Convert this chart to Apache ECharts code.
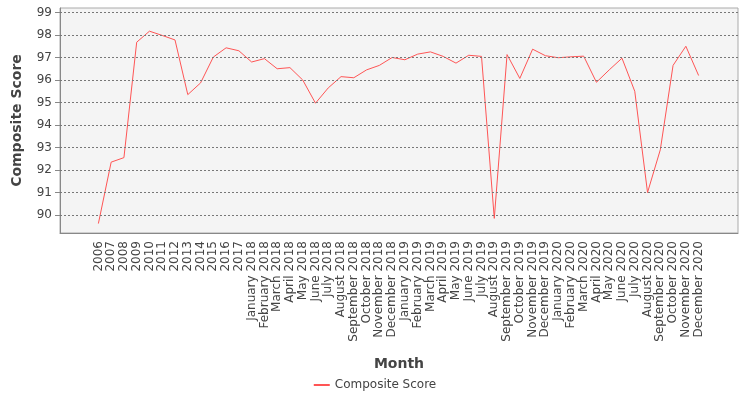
<!DOCTYPE html>
<html><head><meta charset="utf-8">
<script src="https://cdn.jsdelivr.net/npm/echarts@6/dist/echarts.min.js"></script>
<style>html,body{margin:0;padding:0;background:#fff}#c{width:750px;height:400px}</style>
</head><body><div id="c"></div>
<script>
const categories = ['2006','2007','2008','2009','2010','2011','2012','2013','2014','2015','2016','2017',
'January 2018','February 2018','March 2018','April 2018','May 2018','June 2018','July 2018','August 2018','September 2018','October 2018','November 2018','December 2018',
'January 2019','February 2019','March 2019','April 2019','May 2019','June 2019','July 2019','August 2019','September 2019','October 2019','November 2019','December 2019',
'January 2020','February 2020','March 2020','April 2020','May 2020','June 2020','July 2020','August 2020','September 2020','October 2020','November 2020','December 2020'];
const compositeScore = [89.62,92.35,92.55,97.68,98.17,97.98,97.78,95.35,95.87,97.02,97.43,97.3,
96.8,96.95,96.5,96.55,96.0,94.97,95.65,96.15,96.1,96.45,96.65,97.0,
96.9,97.15,97.25,97.05,96.75,97.1,97.05,89.85,97.13,96.07,97.37,97.08,
96.99,97.03,97.06,95.9,96.45,96.97,95.5,91.0,92.9,96.65,97.5,96.2];
const yTicks = [90,91,92,93,94,95,96,97,98,99];
const font = {fontSize:12,color:'#444',fontFamily:'DejaVu Sans'};
const chart = echarts.init(document.getElementById('c'));
chart.setOption({
  animation:false,
  legend:{bottom:4,left:'center',itemWidth:16,itemHeight:2,icon:'rect',textStyle:font,data:['Composite Score']},
  grid:[
    {left:60,right:12,top:8,bottom:167,show:true,backgroundColor:'#f4f4f4',borderColor:'#aaa',borderWidth:1},
    {left:92,right:45,top:8,bottom:167,show:false}
  ],
  xAxis:[
    {gridIndex:0,type:'value',min:0,max:1,axisLine:{show:true,lineStyle:{color:'#888'}},axisTick:{show:false},axisLabel:{show:false},splitLine:{show:false},
     name:'Month',nameLocation:'middle',nameGap:124,nameTextStyle:{fontSize:14,fontWeight:'bold',color:'#444',fontFamily:'DejaVu Sans'}},
    {gridIndex:1,type:'category',data:categories,boundaryGap:true,
     axisLine:{show:false},axisTick:{alignWithLabel:true,lineStyle:{color:'#888'}},
     axisLabel:Object.assign({rotate:90,interval:0},font),splitLine:{show:false}}
  ],
  yAxis:[
    {gridIndex:0,type:'value',min:89.2,max:99.2,name:'Composite Score',nameLocation:'middle',nameGap:36,
     nameTextStyle:{fontSize:14,fontWeight:'bold',color:'#444',fontFamily:'DejaVu Sans'},
     axisLine:{show:true,lineStyle:{color:'#888'}},
     axisTick:{show:true,customValues:yTicks,lineStyle:{color:'#888'}},
     axisLabel:Object.assign({customValues:yTicks},font),splitLine:{show:false}},
    {gridIndex:1,type:'value',min:89.2,max:99.2,show:false,splitLine:{show:false}}
  ],
  series:[
    {type:'line',xAxisIndex:0,yAxisIndex:0,data:[],silent:true,
     markLine:{silent:true,symbol:'none',label:{show:false},lineStyle:{color:'#777',type:[2,2],width:1},
      data:yTicks.map(v=>({yAxis:v}))}},
    {name:'Composite Score',type:'line',xAxisIndex:1,yAxisIndex:1,data:compositeScore,symbol:'none',
     lineStyle:{color:'#ff5555',width:1},itemStyle:{color:'#ff5555'}}
  ]
});
</script></body></html>
